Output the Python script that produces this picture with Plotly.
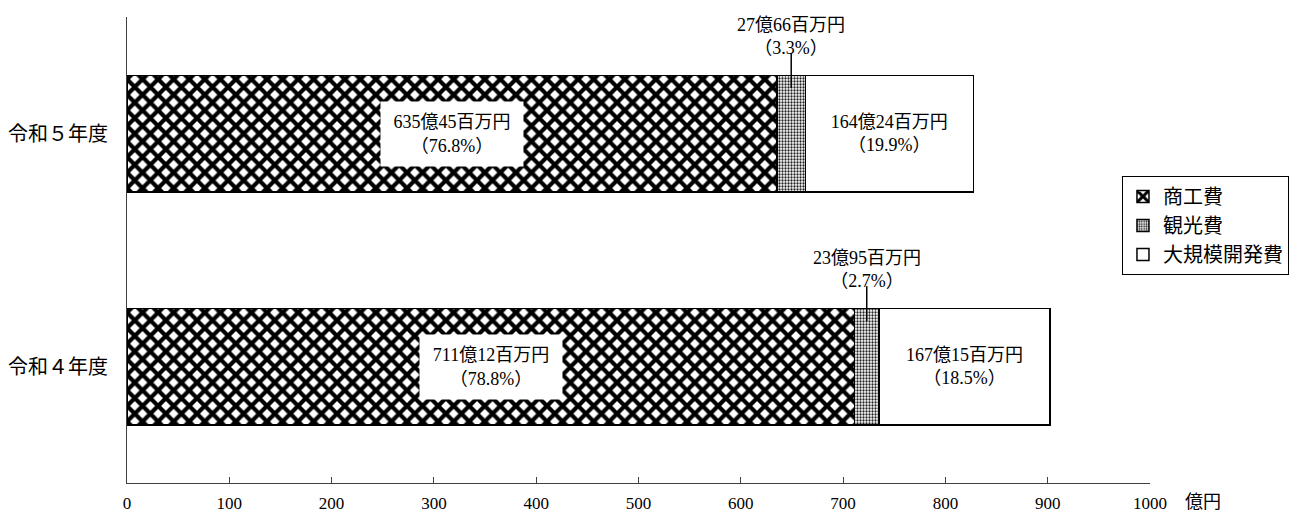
import plotly.graph_objects as go

# ---- data (億円) ----
categories = ["令和４年度", "令和５年度"]
series_names = ["商工費", "観光費", "大規模開発費"]
shoko = [711.12, 635.45]
kanko = [23.95, 27.66]
daikibo = [167.15, 164.24]
x_ticks = [0, 100, 200, 300, 400, 500, 600, 700, 800, 900, 1000]
unit_label = "億円"

FONT = "Liberation Serif, Noto Sans CJK JP, serif"


def yen(v):
    oku, hyaku = divmod(int(round(v * 100)), 100)
    return f"{oku}億{hyaku}百万円"


totals = [a + b + c for a, b, c in zip(shoko, kanko, daikibo)]


def pct(v, t):
    return f"（{v / t * 100:.1f}%）"


fig = go.Figure()
ypos = list(range(len(categories)))
BW = 0.5
line = dict(color="black", width=1.5)

fig.add_trace(go.Bar(
    name=series_names[0], legendgroup="a", y=ypos, x=shoko, orientation="h", width=BW,
    marker=dict(color="white", line=line,
                pattern=dict(shape="x", size=11, solidity=0.62, fgcolor="black",
                             bgcolor="white", fillmode="replace")),
    hoverinfo="skip"))
fig.add_trace(go.Bar(
    name=series_names[1], legendgroup="b", y=ypos, x=kanko, orientation="h", width=BW,
    marker=dict(color="white", line=line,
                pattern=dict(shape=".", size=3, solidity=0.45, fgcolor="#222",
                             bgcolor="white", fillmode="replace")),
    hoverinfo="skip"))
fig.add_trace(go.Bar(
    name=series_names[2], legendgroup="c", y=ypos, x=daikibo, orientation="h", width=BW,
    marker=dict(color="white", line=line),
    text=[f"{yen(v)}<br>{pct(v, t)}" for v, t in zip(daikibo, totals)],
    textposition="inside", insidetextanchor="middle", textangle=0,
    textfont=dict(family=FONT, size=18, color="black"),
    hoverinfo="skip"))

annotations = []
shapes = []
for i, (s, k, t) in enumerate(zip(shoko, kanko, totals)):
    # label box inside 商工費
    annotations.append(dict(
        x=s / 2, y=i, xref="x", yref="y", showarrow=False,
        text=f"{yen(s)}<br>{pct(s, t)}", bgcolor="white",
        width=140, height=62, align="center", valign="middle",
        font=dict(family=FONT, size=18, color="black")))
    # leader line for 観光費
    xm = s + k / 2
    top = i + BW / 2
    shapes.append(dict(type="line", xref="x", yref="y", x0=xm, x1=xm,
                       y0=top + 0.095, y1=top - 0.055,
                       line=dict(color="black", width=1.5)))
    annotations.append(dict(
        x=xm, y=top + 0.095, xref="x", yref="y", showarrow=False,
        text=f"{yen(k)}<br>{pct(k, t)}", yanchor="middle", yshift=17,
        align="center", font=dict(family=FONT, size=18, color="black")))

annotations.append(dict(
    x=1.032, y=-0.04, xref="paper", yref="paper", xanchor="left",
    yanchor="middle", showarrow=False, text=unit_label,
    font=dict(family=FONT, size=18, color="black")))

fig.update_layout(
    width=1300, height=513,
    margin=dict(l=127, r=150, t=17, b=30, autoexpand=False),
    barmode="stack",
    plot_bgcolor="white", paper_bgcolor="white",
    font=dict(family=FONT, size=17, color="black"),
    showlegend=True,
    legend=dict(x=0.9726, y=0.659, xanchor="left", yanchor="top",
                traceorder="grouped", bordercolor="black", borderwidth=1,
                bgcolor="white", font=dict(family=FONT, size=20),
                itemwidth=30, tracegroupgap=0),
    xaxis=dict(range=[0, 1000], tickvals=x_ticks, ticks="inside", ticklen=6,
               tickcolor="#404040", showline=True, linecolor="#404040",
               linewidth=1, showgrid=False, zeroline=False, automargin=False,
               ticklabelstandoff=5,
               tickfont=dict(family="Liberation Serif", size=17)),
    yaxis=dict(range=[-0.5, 1.5], tickvals=ypos, ticktext=categories,
               showline=True, linecolor="#404040", linewidth=1,
               showgrid=False, zeroline=False, ticks="", automargin=False,
               ticklabelstandoff=14, tickfont=dict(family=FONT, size=20)),
    annotations=annotations, shapes=shapes,
)

fig.write_html("out.html", config={"displayModeBar": False},
               post_script="document.body.style.margin='0px';")
